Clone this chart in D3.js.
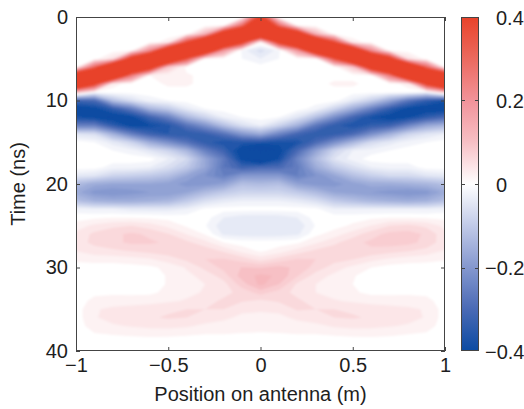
<!DOCTYPE html>
<html><head><meta charset="utf-8">
<script src="https://cdn.jsdelivr.net/npm/d3@7"></script>
<style>
html,body{margin:0;padding:0;background:#fff;}
svg{display:block;font-family:"Liberation Sans",Arial,Helvetica,sans-serif;}
</style></head><body>
<svg id="chart" width="524" height="409"></svg>
<script>
// ---- data ----
const positions = [-1.0,-0.9,-0.8,-0.7,-0.6,-0.5,-0.4,-0.3,-0.2,-0.1,0,0.1,0.2,0.3,0.4,0.5,0.6,0.7,0.8,0.9,1.0];
const times = [0,1,2,3,4,5,6,7,8,9,10,11,12,13,14,15,16,17,18,19,20,21,22,23,24,25,26,27,28,29,30,31,32,33,34,35,36,37,38,39,40];
// field[i][j] : value at times[i], positions[j]
const field = [
[0,0,0,0,0,0,0,0,0,0,0.45,0,0,0,0,0,0,0,0,0,0],
[0,0,0,0,0,0,0,0,0.01,0.29,0.72,0.29,0.01,0,0,0,0,0,0,0,0],
[0,0,0,0,0,0,0,0.12,0.55,0.72,0.72,0.72,0.55,0.12,0,0,0,0,0,0,0],
[0,0,0,0,0,0.02,0.38,0.72,0.72,0.45,0.02,0.45,0.72,0.72,0.38,0.02,0,0,0,0,0],
[0,0,0,0.01,0.22,0.65,0.72,0.62,0.19,-0.02,-0.06,-0.02,0.19,0.62,0.72,0.65,0.22,0.01,0,0,0],
[0,0,0.05,0.48,0.72,0.72,0.36,0.01,0,-0.01,-0.03,-0.01,0,0.01,0.36,0.72,0.72,0.48,0.05,0,0],
[0.01,0.31,0.72,0.72,0.52,0.09,0,0,0,0,0,0,0,0,0,0.09,0.52,0.72,0.72,0.31,0.01],
[0.58,0.72,0.69,0.26,0.01,0.015,0.015,0,0,0,0,0,0,0,0,0,0.01,0.26,0.69,0.72,0.58],
[0.72,0.43,0.02,0,0,0.015,0.015,0,0,0,0,0,0,0,0.015,0.015,0,0,0.02,0.43,0.72],
[0.12,0,0,0,0,0,0,0,0,0,0,0,0,0,0,0,0,0,0,-0.02,0.1],
[-0.32,-0.3,-0.12,-0.06,-0.02,-0.01,0,0,0,0,0,0,0,0,0,-0.04,-0.09,-0.17,-0.27,-0.34,-0.38],
[-0.42,-0.4,-0.34,-0.26,-0.14,-0.1,-0.04,-0.01,0,0,0,0,0,-0.02,-0.08,-0.16,-0.25,-0.34,-0.4,-0.42,-0.42],
[-0.38,-0.4,-0.42,-0.4,-0.32,-0.25,-0.14,-0.08,-0.03,-0.01,0,-0.01,-0.05,-0.12,-0.22,-0.31,-0.38,-0.41,-0.39,-0.34,-0.3],
[-0.25,-0.25,-0.34,-0.4,-0.39,-0.36,-0.28,-0.21,-0.12,-0.06,-0.03,-0.08,-0.15,-0.27,-0.34,-0.37,-0.34,-0.32,-0.24,-0.17,-0.14],
[-0.05,-0.06,-0.15,-0.25,-0.32,-0.35,-0.35,-0.33,-0.28,-0.2,-0.16,-0.24,-0.31,-0.35,-0.34,-0.3,-0.22,-0.15,-0.08,-0.05,-0.03],
[0,-0.01,-0.04,-0.08,-0.16,-0.22,-0.28,-0.34,-0.37,-0.36,-0.36,-0.38,-0.37,-0.3,-0.22,-0.14,-0.07,-0.04,-0.02,-0.01,0],
[0,0,-0.01,-0.02,-0.05,-0.08,-0.14,-0.25,-0.32,-0.42,-0.5,-0.41,-0.3,-0.18,-0.08,-0.03,-0.02,-0.01,0,0,0],
[0,0,0,0,0,-0.03,-0.07,-0.17,-0.26,-0.4,-0.48,-0.38,-0.24,-0.13,-0.05,-0.02,0,0,0,0,0],
[0,0,-0.02,-0.02,-0.03,-0.06,-0.1,-0.17,-0.27,-0.32,-0.3,-0.3,-0.26,-0.16,-0.1,-0.06,-0.03,-0.02,-0.02,0,0],
[-0.04,-0.05,-0.08,-0.09,-0.1,-0.12,-0.17,-0.21,-0.25,-0.2,-0.2,-0.2,-0.25,-0.21,-0.17,-0.12,-0.09,-0.07,-0.07,-0.05,-0.04],
[-0.13,-0.16,-0.17,-0.17,-0.17,-0.18,-0.2,-0.2,-0.18,-0.12,-0.13,-0.12,-0.18,-0.2,-0.2,-0.18,-0.16,-0.16,-0.15,-0.14,-0.12],
[-0.16,-0.2,-0.21,-0.2,-0.19,-0.19,-0.17,-0.13,-0.1,-0.08,-0.08,-0.08,-0.1,-0.13,-0.17,-0.18,-0.19,-0.2,-0.21,-0.2,-0.16],
[-0.12,-0.15,-0.16,-0.16,-0.15,-0.14,-0.1,-0.06,-0.04,-0.03,-0.03,-0.03,-0.04,-0.06,-0.1,-0.12,-0.14,-0.15,-0.16,-0.15,-0.12],
[-0.02,-0.03,-0.03,-0.04,-0.04,-0.04,-0.03,-0.005,0,0,0,0,0,-0.005,-0.03,-0.03,-0.03,-0.03,-0.03,-0.03,-0.02],
[0,0.005,0.008,0.008,0.005,0.003,0,0,-0.03,-0.04,-0.042,-0.04,-0.03,0,0,0,0.005,0.008,0.008,0.006,0.004],
[0.02,0.035,0.045,0.05,0.04,0.024,0.007,-0.008,-0.045,-0.05,-0.05,-0.05,-0.045,-0.008,0.002,0.014,0.031,0.05,0.055,0.045,0.024],
[0.035,0.055,0.065,0.074,0.066,0.051,0.029,0.008,-0.035,-0.04,-0.042,-0.04,-0.035,0.004,0.02,0.04,0.061,0.077,0.08,0.066,0.036],
[0.04,0.056,0.065,0.074,0.073,0.067,0.055,0.037,0.01,0,0,0,0.006,0.027,0.045,0.063,0.075,0.08,0.077,0.063,0.038],
[0.031,0.041,0.046,0.052,0.058,0.063,0.065,0.062,0.046,0.022,0.006,0.019,0.038,0.054,0.061,0.067,0.065,0.059,0.052,0.043,0.028],
[0.015,0.019,0.019,0.022,0.028,0.04,0.055,0.07,0.072,0.061,0.041,0.058,0.072,0.07,0.059,0.051,0.037,0.026,0.02,0.017,0.012],
[0,0,0,0.002,0.005,0.016,0.032,0.056,0.076,0.091,0.088,0.097,0.085,0.062,0.04,0.024,0.01,0.002,0,0,0],
[0,0,0,0,0,0.012,0.025,0.037,0.06,0.1,0.115,0.107,0.072,0.04,0.025,0.012,0,0,0,0,0],
[0,0,0,0,0,0.012,0.022,0.03,0.042,0.08,0.116,0.09,0.045,0.03,0.022,0.01,0,0,0,0,0],
[0,0.005,0.006,0.005,0.006,0.015,0.025,0.032,0.042,0.058,0.078,0.061,0.042,0.03,0.022,0.013,0.005,0.005,0.006,0.005,0],
[0,0.016,0.02,0.02,0.022,0.027,0.032,0.04,0.055,0.052,0.046,0.053,0.055,0.038,0.032,0.027,0.022,0.02,0.019,0.016,0],
[0,0.028,0.034,0.038,0.042,0.047,0.05,0.05,0.05,0.034,0.032,0.034,0.053,0.05,0.05,0.047,0.042,0.038,0.034,0.028,0],
[0,0.028,0.038,0.043,0.048,0.052,0.05,0.042,0.034,0.026,0.026,0.026,0.034,0.042,0.05,0.052,0.048,0.043,0.038,0.028,0],
[0,0.02,0.027,0.032,0.036,0.037,0.033,0.025,0.022,0.02,0.02,0.02,0.022,0.024,0.033,0.037,0.036,0.032,0.027,0.019,0],
[0,0.008,0.011,0.013,0.015,0.014,0.012,0.01,0.01,0.008,0.007,0.008,0.01,0.01,0.012,0.014,0.015,0.013,0.01,0.007,0],
[0,0,0,0,0,0,0,0,0,0,0,0,0,0,0,0,0,0,0,0,0],
[0,0,0,0,0,0,0,0,0,0,0,0,0,0,0,0,0,0,0,0,0]
];
const xTicks = [-1,-0.5,0,0.5,1];
const yTicks = [0,10,20,30,40];
const colorTicks = [-0.4,-0.2,0,0.2,0.4];
const xDomain = [-1,1];
const yDomain = [0,40];
const colorDomain = [-0.4,-0.3,-0.2,-0.1,0,0.1,0.2,0.3,0.4];

// ---- styles / layout ----
const colorRange = ["#0b4ba2","#4a6ab5","#8598cf","#c1cae8","#ffffff","#f7c0c5","#f1939a","#ec6a5f","#e8432a"];
const plot = {left:76, right:445, top:17, bottom:351};
const cbar = {x:461, w:17};
const axisColor = "#444", textColor = "#1e1e1e", fontSize = 20;

const svg = d3.select("#chart");
const x = d3.scaleLinear().domain(xDomain).range([plot.left, plot.right]);
const y = d3.scaleLinear().domain(yDomain).range([plot.top, plot.bottom]);
const color = d3.scaleLinear().domain(colorDomain).range(colorRange).clamp(true);

const nx = positions.length, ny = times.length;
const values = field.flat();
const colVal = d3.scaleLinear().domain([0, nx-1]).range([positions[0], positions[nx-1]]);
const rowVal = d3.scaleLinear().domain([0, ny-1]).range([times[0], times[ny-1]]);
const proj = d3.geoTransform({point(px, py){ this.stream.point(x(colVal(px-0.5)), y(rowVal(py-0.5))); }});
const path = d3.geoPath(proj);
const step = 0.02;
const thresholds = d3.range(-26, 21).map(i => +(i*step + step/2).toFixed(3));
const contours = d3.contours().size([nx, ny]).thresholds(thresholds)(values);

const defs = svg.append("defs");
defs.append("clipPath").attr("id","clip").append("rect")
  .attr("x",plot.left).attr("y",plot.top).attr("width",plot.right-plot.left).attr("height",plot.bottom-plot.top);
defs.append("filter").attr("id","soft").attr("x","-5%").attr("y","-5%").attr("width","110%").attr("height","110%")
  .append("feGaussianBlur").attr("stdDeviation",0.8);

const g = svg.append("g").attr("clip-path","url(#clip)");
g.append("rect").attr("x",plot.left).attr("y",plot.top).attr("width",plot.right-plot.left).attr("height",plot.bottom-plot.top).attr("fill","#fff");
g.append("g").attr("filter","url(#soft)")
  .selectAll("path").data(contours).join("path")
  .attr("d", path)
  .attr("fill", d => color(d.value + step/2));

// axes
function styleAxis(sel){
  sel.select(".domain").remove();
  sel.selectAll(".tick line").attr("stroke",axisColor);
  sel.selectAll("text").attr("fill",textColor).attr("font-size",fontSize).attr("font-family",'"Liberation Sans",Arial,sans-serif');
}
const fmt = d3.format("");
svg.append("g").attr("transform",`translate(0,${plot.bottom})`)
  .call(d3.axisBottom(x).tickValues(xTicks).tickSizeInner(-4).tickSizeOuter(0).tickPadding(7).tickFormat(fmt)).call(styleAxis);
svg.append("g").attr("transform",`translate(0,${plot.top})`)
  .call(d3.axisTop(x).tickValues(xTicks).tickSizeInner(-4).tickSizeOuter(0).tickFormat("")).call(styleAxis);
svg.append("g").attr("transform",`translate(${plot.left},0)`)
  .call(d3.axisLeft(y).tickValues(yTicks).tickSizeInner(-4).tickSizeOuter(0).tickPadding(8).tickFormat(fmt)).call(styleAxis);
svg.append("g").attr("transform",`translate(${plot.right},0)`)
  .call(d3.axisRight(y).tickValues(yTicks).tickSizeInner(-4).tickSizeOuter(0).tickFormat("")).call(styleAxis);
svg.append("rect").attr("x",plot.left+0.5).attr("y",plot.top+0.5).attr("width",plot.right-plot.left-1).attr("height",plot.bottom-plot.top-1)
  .attr("fill","none").attr("stroke",axisColor).attr("stroke-width",1);

// axis titles
svg.append("text").attr("x",(plot.left+plot.right)/2).attr("y",401).attr("text-anchor","middle")
  .attr("font-size",fontSize).attr("fill",textColor).text("Position on antenna (m)");
svg.append("text").attr("transform",`translate(25,${(plot.top+plot.bottom)/2}) rotate(-90)`).attr("text-anchor","middle")
  .attr("font-size",fontSize).attr("fill",textColor).text("Time (ns)");

// colorbar
const cy = d3.scaleLinear().domain([colorDomain[0], colorDomain[colorDomain.length-1]]).range([plot.bottom, plot.top]);
const grad = defs.append("linearGradient").attr("id","cbgrad").attr("x1",0).attr("y1",1).attr("x2",0).attr("y2",0);
const gstops = d3.range(0, 41).map(i => colorDomain[0] + i*(colorDomain[colorDomain.length-1]-colorDomain[0])/40);
grad.selectAll("stop").data(gstops).join("stop")
  .attr("offset", d => (d - colorDomain[0])/(colorDomain[colorDomain.length-1]-colorDomain[0]))
  .attr("stop-color", d => color(d));
svg.append("rect").attr("x",cbar.x+0.5).attr("y",plot.top+0.5).attr("width",cbar.w).attr("height",plot.bottom-plot.top-1)
  .attr("fill","url(#cbgrad)").attr("stroke",axisColor).attr("stroke-width",1);
const inner = colorTicks.filter(v => v > colorDomain[0] && v < colorDomain[colorDomain.length-1]);
svg.selectAll(".cbtickL").data(inner).join("line").attr("class","cbtickL")
  .attr("x1",cbar.x+0.5).attr("x2",cbar.x+4).attr("y1",d=>Math.round(cy(d))+0.5).attr("y2",d=>Math.round(cy(d))+0.5).attr("stroke",axisColor);
svg.selectAll(".cbtickR").data(inner).join("line").attr("class","cbtickR")
  .attr("x1",cbar.x+cbar.w+0.5).attr("x2",cbar.x+cbar.w-3).attr("y1",d=>Math.round(cy(d))+0.5).attr("y2",d=>Math.round(cy(d))+0.5).attr("stroke",axisColor);
svg.selectAll(".cblab").data(colorTicks).join("text").attr("class","cblab")
  .attr("x", d => d < 0 ? 485 : 496).attr("y", d => cy(d)).attr("dy","0.38em")
  .attr("font-size",fontSize).attr("fill",textColor).text(d => fmt(d));
</script>
</body></html>
